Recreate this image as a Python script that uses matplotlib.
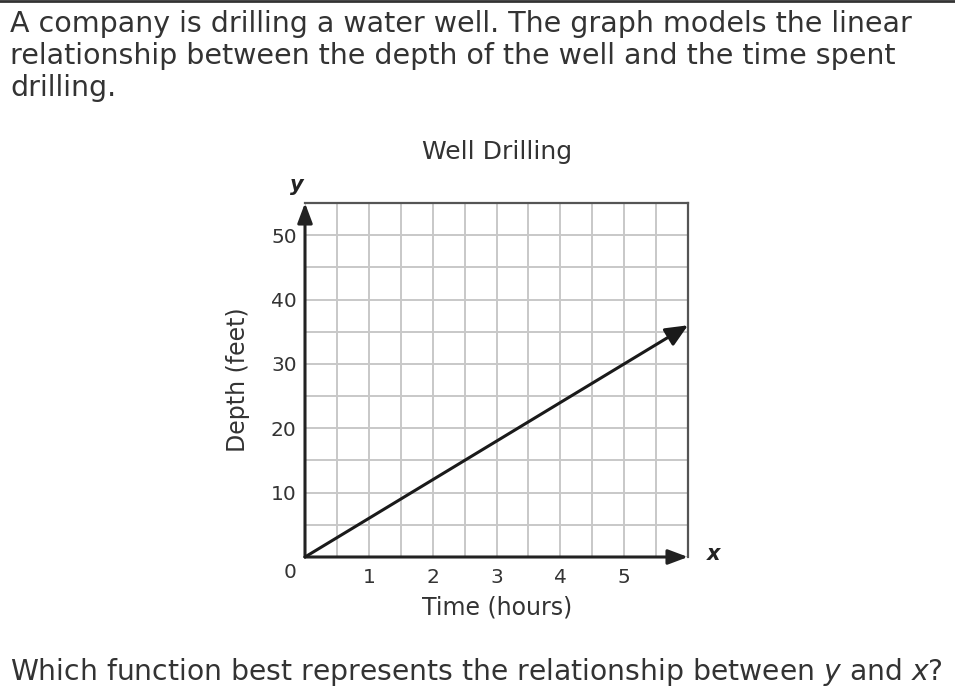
import matplotlib
matplotlib.use('Agg')
import matplotlib.pyplot as plt
import numpy as np
from matplotlib.lines import Line2D

plt.rcParams['font.family'] = ['DejaVu Sans']
plt.rcParams['mathtext.fontset'] = 'dejavusans'

# data: the model line (hours, feet)
hours = [0, 6]
depth = [0, 36]

x_labels = [1, 2, 3, 4, 5]
y_labels = [10, 20, 30, 40, 50]
x_max, y_max = 6, 55

QUESTION = ('A company is drilling a water well. The graph models the linear\n'
            'relationship between the depth of the well and the time spent\n'
            'drilling.')
PROMPT = r'Which function best represents the relationship between $\mathit{y}$ and $\mathit{x}$?'

W, H = 955, 691
TXT = '#333333'
GRID = '#c8c8c8'


def fx(px):
    return px / W


def fy(py):
    return 1 - py / H


fig = plt.figure(figsize=(W / 100, H / 100), dpi=100)
ax = fig.add_axes([fx(305), fy(557), (688 - 305) / W, (557 - 203) / H])

ax.set_xlim(0, x_max)
ax.set_ylim(0, y_max)
ax.set_xticks(x_labels)
ax.set_xticklabels([str(v) for v in x_labels])
ax.set_yticks(y_labels)
ax.set_yticklabels([str(v) for v in y_labels])
ax.set_xticks(np.arange(0, x_max + 0.01, 0.5), minor=True)
ax.set_yticks(np.arange(0, y_max + 0.01, 5), minor=True)
ax.tick_params(which='both', length=0, labelsize=14.5, colors=TXT)
ax.tick_params(axis='x', pad=8)
ax.tick_params(axis='y', pad=6)
ax.grid(which='both', color=GRID, lw=1.4)
ax.set_axisbelow(True)

for side in ['top', 'right']:
    ax.spines[side].set_color('#555555')
    ax.spines[side].set_linewidth(1.6)
for side in ['left', 'bottom']:
    ax.spines[side].set_visible(False)

# axes with arrow heads
axis_arrow = dict(arrowstyle='-|>,head_length=0.8,head_width=0.3', color='#222222',
                  lw=2.2, mutation_scale=15, shrinkA=0, shrinkB=0)
ax.annotate('', xy=(x_max, 0), xytext=(0, 0), arrowprops=axis_arrow,
            annotation_clip=False)
ax.annotate('', xy=(0, y_max), xytext=(0, 0), arrowprops=axis_arrow,
            annotation_clip=False)

# the model line
ax.annotate('', xy=(hours[-1], depth[-1]), xytext=(hours[0], depth[0]),
            arrowprops=dict(arrowstyle='-|>,head_length=0.9,head_width=0.4',
                            color='#1a1a1a', lw=2.2, mutation_scale=15,
                            shrinkA=0, shrinkB=0),
            annotation_clip=False)

# texts
fig.text(fx(10), fy(10), QUESTION, ha='left', va='top', fontsize=20.5,
         color=TXT, linespacing=1.19)
fig.text(fx(497), fy(152), 'Well Drilling', ha='center', va='center',
         fontsize=18, color=TXT)
fig.text(fx(297), fy(185), 'y', ha='center', va='center', fontsize=15,
         style='italic', weight='bold', color='#222222')
fig.text(fx(714), fy(554), 'x', ha='center', va='center', fontsize=15,
         style='italic', weight='bold', color='#222222')
fig.text(fx(290), fy(573), '0', ha='center', va='center', fontsize=14.5,
         color=TXT)
fig.text(fx(497), fy(607), 'Time (hours)', ha='center', va='center',
         fontsize=17, color=TXT)
fig.text(fx(238), fy(380), 'Depth (feet)', ha='center', va='center',
         fontsize=17, color=TXT, rotation=90)
fig.text(fx(10), fy(672), PROMPT, ha='left', va='center', fontsize=20.3,
         color=TXT)

fig.add_artist(Line2D([0, 1], [fy(1), fy(1)], color='#333333', lw=2,
                      transform=fig.transFigure))

fig.savefig('out.png', dpi=100, facecolor='white')
